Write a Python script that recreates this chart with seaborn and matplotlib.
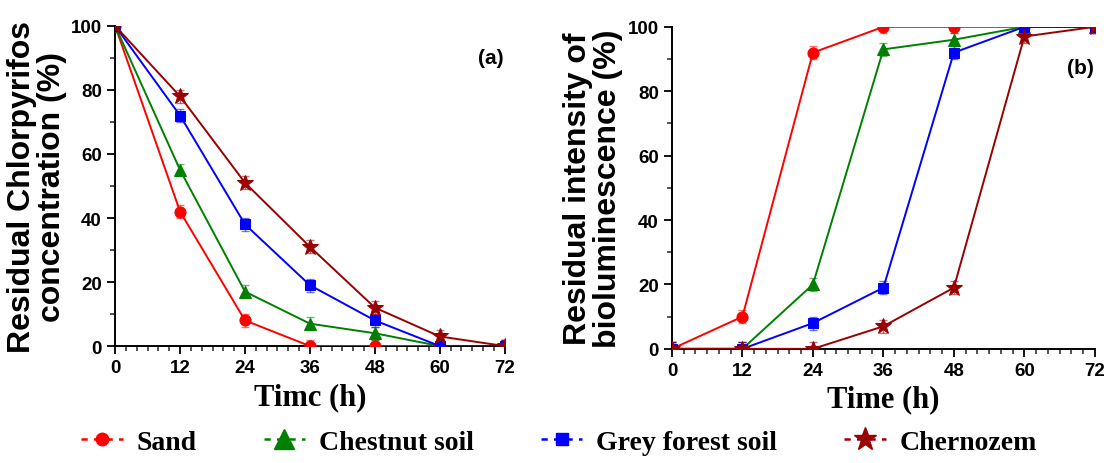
import numpy as np
import pandas as pd
import matplotlib
matplotlib.use('Agg')
import matplotlib.pyplot as plt
from matplotlib.lines import Line2D
from matplotlib.ticker import MultipleLocator
import seaborn as sns

sns.set_style('ticks')
sans = ['Liberation Sans', 'DejaVu Sans']
serif = ['Liberation Serif', 'DejaVu Serif']
plt.rcParams['font.family'] = sans
plt.rcParams['font.weight'] = 'bold'
plt.rcParams['text.color'] = 'black'

time_h = [0, 12, 24, 36, 48, 60, 72]
soils = ['Sand', 'Chestnut soil', 'Grey forest soil', 'Chernozem']

# (a) residual chlorpyrifos, %
chlor_sand = [100, 42, 8, 0, 0, 0, 0]
chlor_chestnut = [100, 55, 17, 7, 4, 0, 0]
chlor_grey = [100, 72, 38, 19, 8, 0, 0]
chlor_chernozem = [100, 78, 51, 31, 12, 3, 0]

# (b) residual bioluminescence, %
biolum_sand = [0, 10, 92, 100, 100, 100, 100]
biolum_chestnut = [0, 0, 20, 93, 96, 100, 100]
biolum_grey = [0, 0, 8, 19, 92, 100, 100]
biolum_chernozem = [0, 0, 0, 7, 19, 97, 100]

err = 2.0

colors = ['#ff0000', '#008000', '#0000ff', '#990000']
markers = ['o', '^', 's', '*']
msizes = [8, 9, 7.5, 12]


def draw_panel(ax, series, ylabel, tag, tag_xy):
    for vals, name, c, m, ms in zip(series, soils, colors, markers, msizes):
        df = pd.DataFrame({'t': time_h, 'v': vals})
        ax.errorbar(df['t'], df['v'], yerr=err, fmt='none', ecolor=c,
                    alpha=0.55, elinewidth=1, capsize=3, zorder=2)
        sns.lineplot(data=df, x='t', y='v', ax=ax, color=c, marker=m,
                     markersize=ms, markeredgecolor=c, linewidth=1.4,
                     label=name, legend=False, zorder=3)
    ax.set_xlim(0, 72)
    ax.set_ylim(0, 100)
    ax.set_xticks(time_h)
    ax.xaxis.set_minor_locator(MultipleLocator(2))
    ax.yaxis.set_major_locator(MultipleLocator(20))
    ax.yaxis.set_minor_locator(MultipleLocator(10))
    ax.tick_params(which='major', length=6, width=1.3, direction='out',
                   labelsize=13.5, colors='black')
    ax.tick_params(which='minor', length=3.5, width=1.1, direction='out')
    sns.despine(ax=ax)
    for s in ['left', 'bottom']:
        ax.spines[s].set_linewidth(1.4)
        ax.spines[s].set_color('black')
    ax.set_ylabel(ylabel, fontweight='bold', fontsize=23,
                  linespacing=1.0, labelpad=3, color='black')
    ax.text(tag_xy[0], tag_xy[1], tag, transform=ax.transAxes, color='black',
            fontweight='bold', fontsize=15, ha='center', va='center')


fig = plt.figure(figsize=(11.07, 4.64), dpi=100)
ax1 = fig.add_axes([0.104, 0.252, 0.352, 0.690])
ax2 = fig.add_axes([0.607, 0.246, 0.382, 0.694])

draw_panel(ax1, [chlor_sand, chlor_chestnut, chlor_grey, chlor_chernozem],
           'Residual Chlorpyrifos\nconcentration (%)', '(a)', (0.965, 0.9))
draw_panel(ax2, [biolum_sand, biolum_chestnut, biolum_grey, biolum_chernozem],
           'Residual intensity of\nbioluminescence (%)', '(b)', (0.965, 0.875))

ax1.set_xlabel('Timc (h)', family=serif, fontweight='bold', fontsize=22,
               labelpad=4, color='black')
ax2.set_xlabel('Time (h)', family=serif, fontweight='bold', fontsize=22,
               labelpad=4, color='black')

handles = [Line2D([0], [0], color=c, linestyle=(0, (2.5, 2.5)), marker=m,
                  markersize=ms, linewidth=1.8, markeredgecolor=c)
           for c, m, ms in zip(colors, markers, [9, 14, 8, 17])]
fig.legend(handles, soils, loc='center', bbox_to_anchor=(0.505, 0.045), ncol=4,
           frameon=False, handlelength=1.5, columnspacing=2.4, handletextpad=0.5,
           prop={'family': serif, 'weight': 'bold', 'size': 20},
           labelcolor='black')

fig.savefig('out.png', dpi=100)
